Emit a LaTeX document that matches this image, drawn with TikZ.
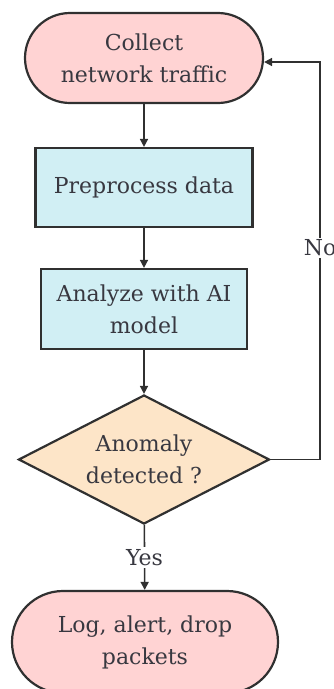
\documentclass[tikz,border=0pt]{standalone}
\usepackage{fontspec}
\setmainfont{DejaVu Serif}
\usetikzlibrary{shapes.geometric,shapes.misc,arrows.meta}

\definecolor{termfill}{HTML}{FFD3D3}
\definecolor{procfill}{HTML}{D1EFF4}
\definecolor{decfill}{HTML}{FDE5C8}
\definecolor{edge}{HTML}{303030}
\definecolor{ink}{HTML}{383840}

\tikzset{
  base/.style={draw=edge, line width=2.2pt, text=ink, align=center,
    font=\fontsize{22}{32}\selectfont, inner sep=0pt},
  terminal/.style={base, fill=termfill, rounded rectangle},
  procbox/.style={base, fill=procfill, rectangle},
  decision/.style={base, fill=decfill, diamond, aspect=2},
  flow/.style={draw=edge, line width=1.6pt,
    -{Triangle[length=8pt,width=8pt]}},
  edgelabel/.style={fill=white, text=ink, inner sep=2pt,
    font=\fontsize{22}{26}\selectfont}
}

\begin{document}
\begin{tikzpicture}[x=1pt,y=-1pt]
  \useasboundingbox (0,0) rectangle (334,689);

  % process chain, top to bottom
  \node[terminal, minimum width=238pt, minimum height=90pt] (collect)
    at (144,58) {Collect\\network traffic};
  \node[procbox, minimum width=217pt, minimum height=79pt] (prep)
    at (144,187.5) {Preprocess data};
  \node[procbox, minimum width=206pt, minimum height=80pt] (analyze)
    at (144,309) {Analyze with AI\\model};
  \node[decision, minimum width=251pt, minimum height=129pt] (anom)
    at (144,459.5) {Anomaly\\detected ?};
  \node[terminal, minimum width=266pt, minimum height=102pt] (act)
    at (145,642) {Log, alert, drop\\packets};

  % feedback loop corners
  \coordinate (loopcorner) at (320,459.5);
  \coordinate (looptop) at (320,62);

  \draw[flow] (collect) -- (prep);
  \draw[flow] (prep) -- (analyze);
  \draw[flow] (analyze) -- (anom);
  \draw[flow] (anom) -- node[edgelabel, pos=0.5] {Yes} (act);
  \draw[flow] (anom.east) -- (loopcorner) -- node[edgelabel, pos=0.532] {No} (looptop) -- (collect.east |- looptop);
\end{tikzpicture}
\end{document}
